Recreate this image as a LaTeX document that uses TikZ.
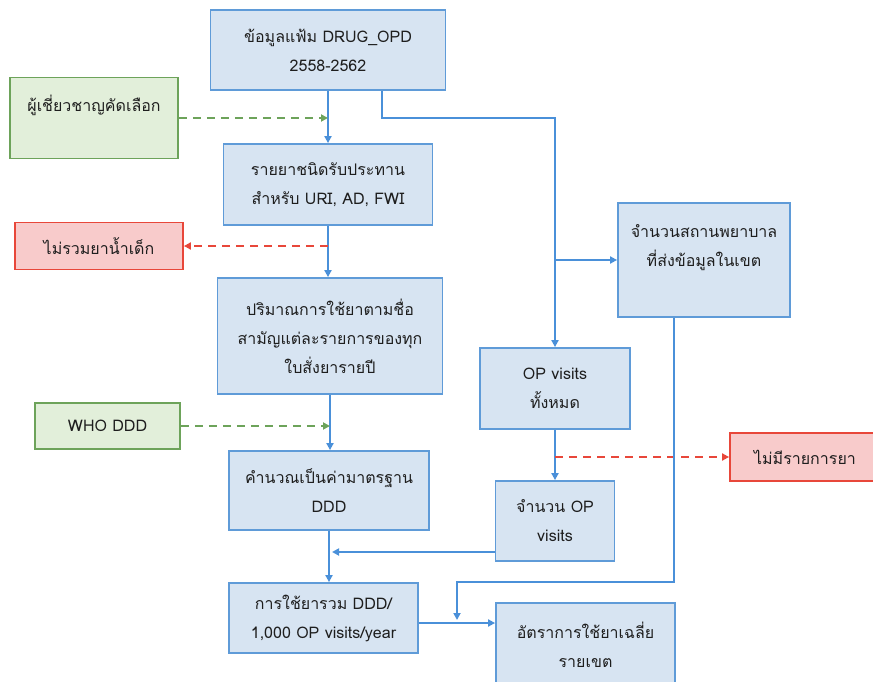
\documentclass[tikz,border=0pt]{standalone}
\usepackage{fontspec}
\setmainfont[Script=Thai]{Loma}
\usetikzlibrary{arrows.meta,calc}
\definecolor{bfill}{HTML}{D7E4F2}
\definecolor{bline}{HTML}{5F9BD8}
\definecolor{conn}{HTML}{4A90D9}
\definecolor{gfill}{HTML}{E2EFDA}
\definecolor{gline}{HTML}{6DA35A}
\definecolor{rfill}{HTML}{F8CBCB}
\definecolor{rline}{HTML}{E8473A}
\definecolor{txt}{HTML}{1E1E1E}
\begin{document}
\begin{tikzpicture}[x=1pt,y=-1pt,
  box/.style={draw=bline,fill=bfill,line width=1.8pt,inner sep=0pt,align=center,text=txt,font=\fontsize{16}{29}\selectfont},
  gbox/.style={box,draw=gline,fill=gfill},
  rbox/.style={box,draw=rline,fill=rfill},
  arr/.style={draw=conn,line width=2pt,-{Triangle[length=7pt,width=7pt]}},
  garr/.style={draw=gline,line width=1.8pt,dash pattern=on 8pt off 6pt,-{Triangle[length=7pt,width=7pt]}},
  rarr/.style={draw=rline,line width=1.8pt,dash pattern=on 8pt off 6pt,-{Triangle[length=7pt,width=7pt]}}]
\useasboundingbox (0,0) rectangle (873,682);
\begin{scope}
\clip (0,0) rectangle (873,682);
\node[box,minimum width=235pt,minimum height=80pt] (top) at (328,50) {ข้อมูลแฟ้ม DRUG\_OPD\\2558-2562};
\node[gbox,minimum width=168pt,minimum height=81pt] (expert) at (94,118) {ผู้เชี่ยวชาญคัดเลือก\\\mbox{}};
\node[box,minimum width=209pt,minimum height=81pt] (list) at (328,184.5) {รายยาชนิดรับประทาน\\สำหรับ URI, AD, FWI};
\node[rbox,minimum width=168pt,minimum height=47pt] (nokid) at (99,246) {ไม่รวมยาน้ำเด็ก};
\node[box,minimum width=225pt,minimum height=116pt] (qty) at (330,336) {ปริมาณการใช้ยาตามชื่อ\\สามัญแต่ละรายการของทุก\\ใบสั่งยารายปี};
\node[gbox,minimum width=145pt,minimum height=46pt] (who) at (107.5,426) {WHO DDD};
\node[box,minimum width=200pt,minimum height=79pt] (calc) at (329,490.5) {คำนวณเป็นค่ามาตรฐาน\\DDD};
\node[box,minimum width=189pt,minimum height=70pt] (total) at (323.5,618) {การใช้ยารวม DDD/\\1,000 OP visits/year};
\node[box,minimum width=179pt,minimum height=84pt] (rate) at (585.5,645) {อัตราการใช้ยาเฉลี่ย\\รายเขต};
\node[box,minimum width=172pt,minimum height=114pt] (hosp) at (704,260) {จำนวนสถานพยาบาล\\ที่ส่งข้อมูลในเขต\\\mbox{}};
\node[box,minimum width=150pt,minimum height=81pt] (opv) at (555,388.5) {OP visits\\ทั้งหมด};
\node[box,minimum width=119pt,minimum height=80pt] (opn) at (555,521) {จำนวน OP\\visits};
\node[rbox,minimum width=150pt,minimum height=48pt] (nodrug) at (805,457) {ไม่มีรายการยา};

\coordinate (c1) at (555,118);
\coordinate (m1) at (329,552);
\coordinate (c2) at (457,582);
\coordinate (c3) at (457,620);

\draw[arr] (top.south) -- (list.north);
\draw[garr] (expert.east) -- (expert.east -| top.south);
\draw[arr] (list.south) -- (list.south |- qty.north);
\draw[rarr] (nokid.east -| list.south) -- (nokid.east);
\draw[arr] (qty.south) -- (qty.south |- calc.north);
\draw[garr] (who.east) -- (who.east -| qty.south);
\draw[arr] (calc.south) -- (calc.south |- total.north);
\draw[arr] (opn.west |- m1) -- ([xshift=3pt]m1);
\draw[arr] ([xshift=54pt]top.south) |- (c1) -- (opv.north);
\draw[arr] (c1 |- hosp.west) -- (hosp.west);
\draw[arr] (opv.south) -- (opn.north);
\draw[rarr] (nodrug.west -| opv.south) -- (nodrug.west);
\draw[arr] ([xshift=-30pt]hosp.south) |- (c2) -- (c3);
\draw[arr] ([yshift=-5pt]total.east) -- ([yshift=-5pt]total.east -| rate.west);
\end{scope}
\end{tikzpicture}
\end{document}
